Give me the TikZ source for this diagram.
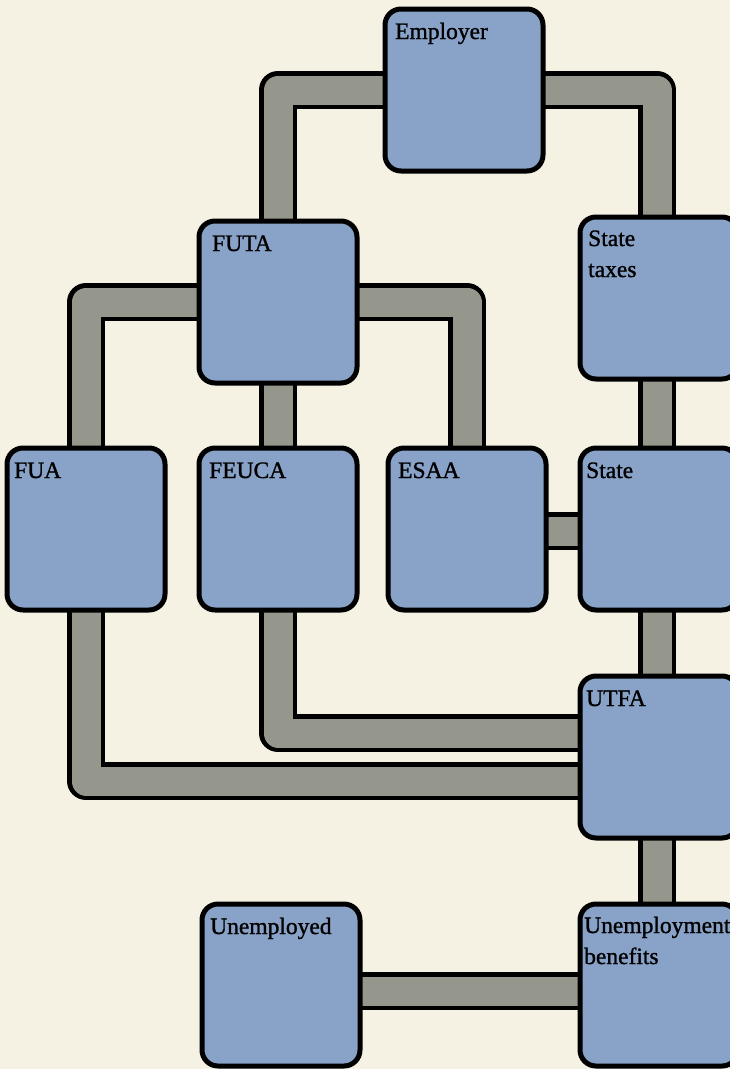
\documentclass[tikz,border=0pt]{standalone}
\usepackage{fontspec}
\setmainfont{Liberation Serif}
\newfontfamily\lblfont{Liberation Serif}[FakeBold=1.1]
\usetikzlibrary{calc}
\definecolor{bgc}{RGB}{245,242,228}
\definecolor{boxc}{RGB}{136,162,200}
\definecolor{bandc}{RGB}{150,151,140}
\tikzset{
  box/.style={draw=black, fill=boxc, line width=5pt, rounded corners=16pt,
    minimum width=158pt, minimum height=162pt, inner sep=0pt, outer sep=0pt},
  lbl/.style={anchor=base west, inner sep=0pt, align=left,
    font=\lblfont\fontsize{23.5}{31}\selectfont},
  band/.style={draw=black, line width=4.5pt, double=bandc, double distance=29pt,
    line join=round, line cap=butt},
}
\begin{document}
\begin{tikzpicture}[x=1pt,y=-1pt]
\useasboundingbox (0,0) rectangle (730,1069);
\clip (0,0) rectangle (730,1069);
\fill[bgc] (0,0) rectangle (730,1069);
% box positions (centres)
\coordinate (pemp) at (464,90);
\coordinate (pfuta) at (278,302);
\coordinate (pstax) at (657,298);
\coordinate (pfua) at (86,529);
\coordinate (pfeuca) at (278,529);
\coordinate (pesaa) at (467,529);
\coordinate (pstate) at (657,529);
\coordinate (putfa) at (657,757);
\coordinate (punemp) at (281,985);
\coordinate (pben) at (657,985);
% bands
\draw[band] (pemp) -| (pfuta);
\draw[band] (pemp) -| (pstax);
\draw[band] (pfuta) -| (pfua);
\draw[band] (pfuta) -| (pesaa);
\draw[band] (pfuta) -- (pfeuca);
\draw[band] (pstax) -- (pstate);
\draw[band] ([yshift=-2pt]pesaa) -- ([yshift=-2pt]pstate);
\draw[band] (pstate) -- (putfa);
\draw[band] (pfeuca) |- ([yshift=24pt]putfa);
\draw[band] (pfua) |- ([yshift=-24pt]putfa);
\draw[band] (putfa) -- (pben);
\draw[band] ([yshift=-6pt]punemp) -- ([yshift=-6pt]pben);
% boxes
\node[box] (emp) at (pemp) {};
\node[box] (futa) at (pfuta) {};
\node[box, xshift=2pt] (stax) at (pstax) {};
\node[box] (fua) at (pfua) {};
\node[box] (feuca) at (pfeuca) {};
\node[box] (esaa) at (pesaa) {};
\node[box, xshift=2pt] (state) at (pstate) {};
\node[box, xshift=2pt] (utfa) at (putfa) {};
\node[box] (unemp) at (punemp) {};
\node[box, xshift=2pt] (ben) at (pben) {};
% labels
\node[lbl] (temp) at ([shift={(10,30)}]emp.north west) {Employer};
\node[lbl] (tfuta) at ([shift={(13,30)}]futa.north west) {FUTA};
\node[lbl] (tstax) at ([shift={(8,60)}]stax.north west) {State\\taxes};
\node[lbl] (tfua) at ([shift={(7,30)}]fua.north west) {FUA};
\node[lbl] (tfeuca) at ([shift={(10,30)}]feuca.north west) {FEUCA};
\node[lbl] (tesaa) at ([shift={(10,30)}]esaa.north west) {ESAA};
\node[lbl] (tstate) at ([shift={(6,30)}]state.north west) {State};
\node[lbl] (tutfa) at ([shift={(6,30)}]utfa.north west) {UTFA};
\node[lbl] (tunemp) at ([shift={(8,30)}]unemp.north west) {Unemployed};
\node[lbl] (tben) at ([shift={(4,60)}]ben.north west) {Unemployment\\benefits};
\end{tikzpicture}
\end{document}
